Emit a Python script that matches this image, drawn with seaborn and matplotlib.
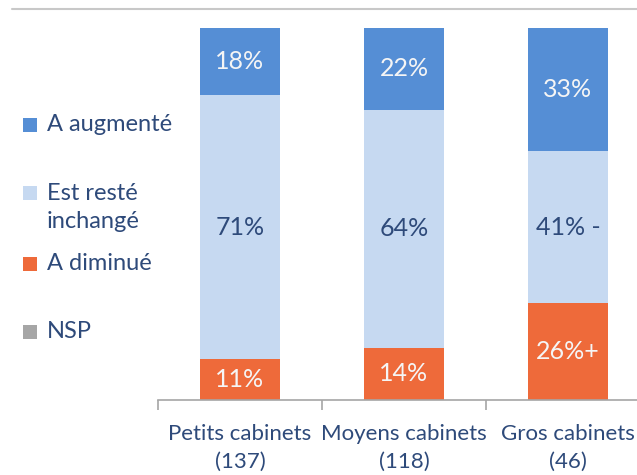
import seaborn as sns
import matplotlib.pyplot as plt
import pandas as pd
from matplotlib.patches import Rectangle
from matplotlib.lines import Line2D

categories = ["Petits cabinets\n(137)", "Moyens cabinets\n(118)", "Gros cabinets\n(46)"]
diminue = [11, 14, 26]
inchange = [71, 64, 41]
augmente = [18, 22, 33]
nsp = [0, 0, 0]
# signes de significativite ajoutes a cote des etiquettes
sig_inchange = ["", "", " -"]
sig_diminue = ["", "", "+"]

series = ["A augmenté", "Est resté\ninchangé", "A diminué", "NSP"]
colors = ["#558ED5", "#C6D9F1", "#EE6A3A", "#A6A6A6"]
text_blue = "#2E4A7A"

sns.set_theme(style="white")
plt.rcParams["font.family"] = ["Lato", "DejaVu Sans"]

df = pd.DataFrame({"cat": categories, "dim": diminue, "inc": inchange,
                   "aug": augmente, "nsp": nsp})
df["c1"] = df["dim"]
df["c2"] = df["c1"] + df["inc"]
df["c3"] = df["c2"] + df["aug"]
df["c4"] = df["c3"] + df["nsp"]

fig = plt.figure(figsize=(6.37, 4.75), dpi=100)
W, H = 637, 475
ax = fig.add_axes([158 / W, (H - 400) / H, (650 - 158) / W, 372 / H])

# barres empilees : cumul le plus haut d'abord
layers = [("c4", colors[3]), ("c3", colors[0]), ("c2", colors[1]), ("c1", colors[2])]
for col, c in layers:
    sns.barplot(data=df, x="cat", y=col, color=c, width=0.49, ax=ax,
                saturation=1, linewidth=0)

ax.set_xlim(-0.5, 2.5)
ax.set_ylim(0, 100)
ax.set_xlabel("")
ax.set_ylabel("")
ax.set_yticks([])
sns.despine(ax=ax, left=True, top=True, right=True)
ax.spines["bottom"].set_color("#A6A6A6")
ax.spines["bottom"].set_linewidth(1.2)
ax.set_xticks([-0.5, 0.5, 1.5, 2.5], minor=True)
ax.tick_params(axis="x", which="minor", length=7, width=1.2, color="#A6A6A6",
               direction="out", bottom=True)
ax.tick_params(axis="x", which="major", length=0, pad=17, labelsize=16,
               labelcolor=text_blue)
for lab in ax.get_xticklabels():
    lab.set_linespacing(1.5)

# etiquettes de valeurs
fs = 18
for i in range(len(categories)):
    ax.text(i, diminue[i] / 2, f"{diminue[i]}%{sig_diminue[i]}", ha="center",
            va="center", color="#F5F5F5", fontsize=fs)
    ax.text(i, diminue[i] + inchange[i] / 2, f"{inchange[i]}%{sig_inchange[i]}",
            ha="center", va="center", color=text_blue, fontsize=fs)
    ax.text(i, diminue[i] + inchange[i] + augmente[i] / 2, f"{augmente[i]}%",
            ha="center", va="center", color="#F5F5F5", fontsize=fs)

# legende a gauche
ys = [125, 193, 264, 332]
for lab, c, y in zip(series, colors, ys):
    fig.add_artist(Rectangle((23 / W, 1 - (y + 7) / H), 14 / W, 14 / H,
                             transform=fig.transFigure, color=c, lw=0))
    ty = y + 14.5 if "\n" in lab else y
    fig.text(47 / W, 1 - ty / H, lab, ha="left", va="center", fontsize=17,
             color=text_blue, linespacing=1.4)

# cadre du haut
fig.add_artist(Line2D([12 / W, 1], [1 - 9 / H, 1 - 9 / H], transform=fig.transFigure,
                      color="#C8C8C8", lw=1.5))

fig.savefig("out.png", dpi=100)
